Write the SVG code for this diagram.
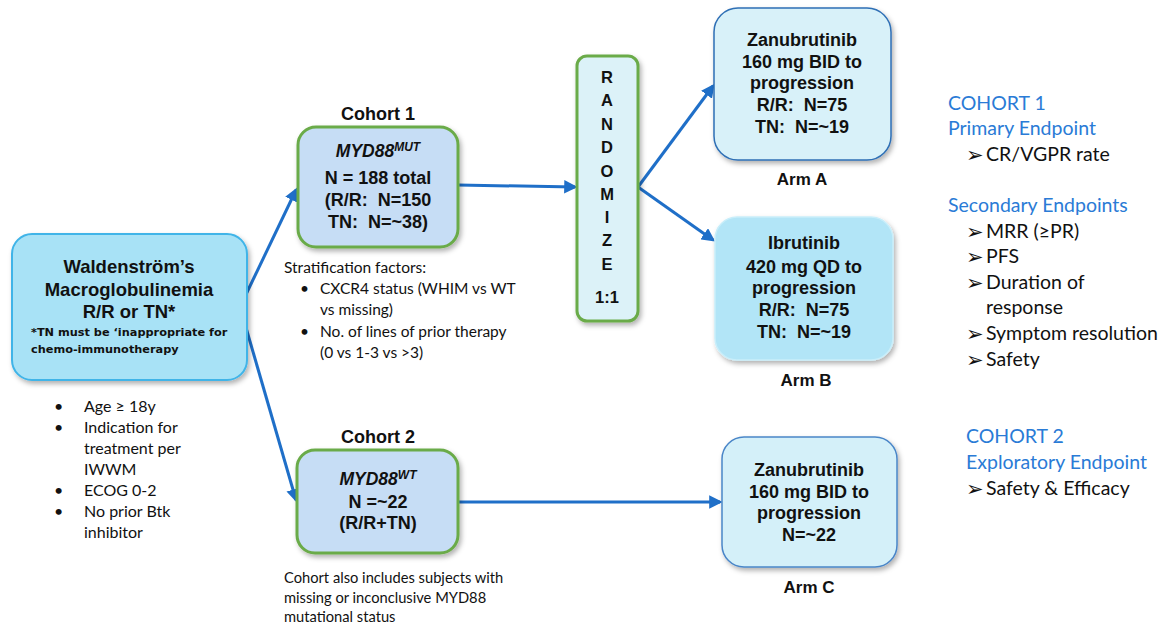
<svg xmlns="http://www.w3.org/2000/svg" width="1169" height="627" viewBox="0 0 1169 627">
<defs>
<filter id="sh" x="-10%" y="-10%" width="125%" height="130%">
<feDropShadow dx="2" dy="3" stdDeviation="2.5" flood-color="#000" flood-opacity="0.3"/>
</filter>
<marker id="ah" viewBox="0 0 10 10" refX="8" refY="5" markerWidth="4.5" markerHeight="4.5" orient="auto" markerUnits="strokeWidth">
<path d="M0,0 L10,5 L0,10 z" fill="#1f6fc8"/>
</marker>
<style>
text{white-space:pre}
.b{font-family:"Liberation Sans",Arial,sans-serif;font-weight:bold;fill:#111;text-anchor:middle}
.c{font-family:Lato,"Open Sans",sans-serif;fill:#111}
.h{font-family:Lato,"Open Sans",sans-serif;fill:#2a7bd6}
.ar{font-family:"DejaVu Sans",sans-serif;font-size:21px;fill:#111}
.cn{stroke:#1f6fc8;stroke-width:3;fill:none;marker-end:url(#ah)}
</style>
</defs>
<rect width="1169" height="627" fill="#fff"/>

<g id="connectors">
<path class="cn" d="M240,307 L296,190"/>
<path class="cn" d="M240,307 L296,500"/>
<path class="cn" d="M458,185 L575,187"/>
<path class="cn" d="M638,187 L713,86"/>
<path class="cn" d="M638,187 L713,240"/>
<path class="cn" d="M458,502 L720,502"/>
</g>

<g id="wm">
<rect x="12" y="234" width="235" height="146" rx="20" fill="#a8e2f6" stroke="#3fb4e8" stroke-width="2" filter="url(#sh)"/>
<text class="b" x="129" y="273" font-size="18.5">Waldenström’s</text>
<text class="b" x="129" y="296" font-size="18.5">Macroglobulinemia</text>
<text class="b" x="129" y="318" font-size="18.5">R/R or TN*</text>
<text x="31" y="336" font-family="'DejaVu Sans',sans-serif" font-weight="bold" font-size="11.3" fill="#111">*TN must be ‘inappropriate for</text>
<text x="31" y="353" font-family="'DejaVu Sans',sans-serif" font-weight="bold" font-size="11.3" fill="#111">chemo-immunotherapy</text>
</g>

<g id="incl" class="c" font-size="16">
<text x="54" y="412">•</text><text x="84" y="412">Age ≥ 18y</text>
<text x="54" y="433">•</text><text x="84" y="433">Indication for</text>
<text x="84" y="454">treatment per</text>
<text x="84" y="475">IWWM</text>
<text x="54" y="496">•</text><text x="84" y="496">ECOG 0-2</text>
<text x="54" y="517">•</text><text x="84" y="517">No prior Btk</text>
<text x="84" y="538">inhibitor</text>
</g>

<g id="cohort1">
<text class="b" x="378" y="120" font-size="18">Cohort 1</text>
<rect x="298" y="127" width="160" height="120" rx="18" fill="#c6ddf5" stroke="#6aab48" stroke-width="3" filter="url(#sh)"/>
<text class="b" x="378" y="157" font-size="17.5"><tspan font-style="italic">MYD88</tspan><tspan font-size="12" dy="-6" font-style="italic">MUT</tspan></text>
<text class="b" x="378" y="184" font-size="18">N = 188 total</text>
<text class="b" x="378" y="206" font-size="18">(R/R:  N=150</text>
<text class="b" x="378" y="228" font-size="18">TN:  N=~38)</text>
</g>

<g id="strat" class="c" font-size="15.5">
<text x="284" y="273">Stratification factors:</text>
<text x="300" y="294">•</text><text x="320" y="294">CXCR4 status (WHIM vs WT</text>
<text x="320" y="315">vs missing)</text>
<text x="300" y="337">•</text><text x="320" y="337">No. of lines of prior therapy</text>
<text x="320" y="358">(0 vs 1-3 vs &gt;3)</text>
</g>

<g id="randomize">
<rect x="577" y="56" width="61" height="265" rx="10" fill="#dcf2f8" stroke="#6aab48" stroke-width="3" filter="url(#sh)"/>
<g class="b" font-size="16.5">
<text x="607" y="83">R</text>
<text x="607" y="106">A</text>
<text x="607" y="130">N</text>
<text x="607" y="153">D</text>
<text x="607" y="177">O</text>
<text x="607" y="200">M</text>
<text x="607" y="223">I</text>
<text x="607" y="246">Z</text>
<text x="607" y="270">E</text>
<text x="607" y="303">1:1</text>
</g>
</g>

<g id="armA">
<rect x="714" y="8" width="177" height="152" rx="24" fill="#d8f1f9" stroke="#2e6fb5" stroke-width="1.5" filter="url(#sh)"/>
<text class="b" x="802" y="46" font-size="18">Zanubrutinib</text>
<text class="b" x="802" y="68" font-size="18">160 mg BID to</text>
<text class="b" x="802" y="89" font-size="18">progression</text>
<text class="b" x="802" y="111" font-size="18">R/R:  N=75</text>
<text class="b" x="802" y="133" font-size="18">TN:  N=~19</text>
<text class="b" x="802" y="185" font-size="17">Arm A</text>
</g>

<g id="armB">
<rect x="715" y="217" width="178" height="143" rx="22" fill="#b2e5f7" stroke="#c9eefa" stroke-width="1.5" filter="url(#sh)"/>
<text class="b" x="804" y="249" font-size="18">Ibrutinib</text>
<text class="b" x="804" y="273" font-size="18">420 mg QD to</text>
<text class="b" x="804" y="294" font-size="18">progression</text>
<text class="b" x="804" y="316" font-size="18">R/R:  N=75</text>
<text class="b" x="804" y="338" font-size="18">TN:  N=~19</text>
<text class="b" x="806" y="386" font-size="17">Arm B</text>
</g>

<g id="cohort2">
<text class="b" x="378" y="443" font-size="18">Cohort 2</text>
<rect x="297" y="450" width="161" height="103" rx="18" fill="#c6ddf5" stroke="#6aab48" stroke-width="3" filter="url(#sh)"/>
<text class="b" x="378" y="485" font-size="17.5"><tspan font-style="italic">MYD88</tspan><tspan font-size="12" dy="-6" font-style="italic">WT</tspan></text>
<text class="b" x="378" y="508" font-size="18">N =~22</text>
<text class="b" x="378" y="529" font-size="18">(R/R+TN)</text>
</g>

<g id="c2note" class="c" font-size="14.7">
<text x="284" y="583">Cohort also includes subjects with</text>
<text x="284" y="603">missing or inconclusive MYD88</text>
<text x="284" y="622">mutational status</text>
</g>

<g id="armC">
<rect x="722" y="437" width="175" height="130" rx="22" fill="#d4f0f9" stroke="#4a86c8" stroke-width="1.5" filter="url(#sh)"/>
<text class="b" x="809" y="476" font-size="18">Zanubrutinib</text>
<text class="b" x="809" y="498" font-size="18">160 mg BID to</text>
<text class="b" x="809" y="519" font-size="18">progression</text>
<text class="b" x="809" y="541" font-size="18">N=~22</text>
<text class="b" x="809" y="593" font-size="17">Arm C</text>
</g>

<g id="endpoints1" font-size="19.5">
<text class="h" x="948" y="110">COHORT 1</text>
<text class="h" x="948" y="135">Primary Endpoint</text>
<text class="ar" x="966" y="162">➢</text><text class="c" x="986" y="161">CR/VGPR rate</text>
<text class="h" x="948" y="212">Secondary Endpoints</text>
<text class="ar" x="966" y="239">➢</text><text class="c" x="986" y="238">MRR (≥PR)</text>
<text class="ar" x="966" y="264">➢</text><text class="c" x="986" y="263">PFS</text>
<text class="ar" x="966" y="290">➢</text><text class="c" x="986" y="289">Duration of</text>
<text class="c" x="986" y="314">response</text>
<text class="ar" x="966" y="341">➢</text><text class="c" x="986" y="340">Symptom resolution</text>
<text class="ar" x="966" y="367">➢</text><text class="c" x="986" y="366">Safety</text>
</g>

<g id="endpoints2" font-size="19.5">
<text class="h" x="966" y="443">COHORT 2</text>
<text class="h" x="966" y="469">Exploratory Endpoint</text>
<text class="ar" x="966" y="496">➢</text><text class="c" x="986" y="495">Safety &amp; Efficacy</text>
</g>
</svg>
